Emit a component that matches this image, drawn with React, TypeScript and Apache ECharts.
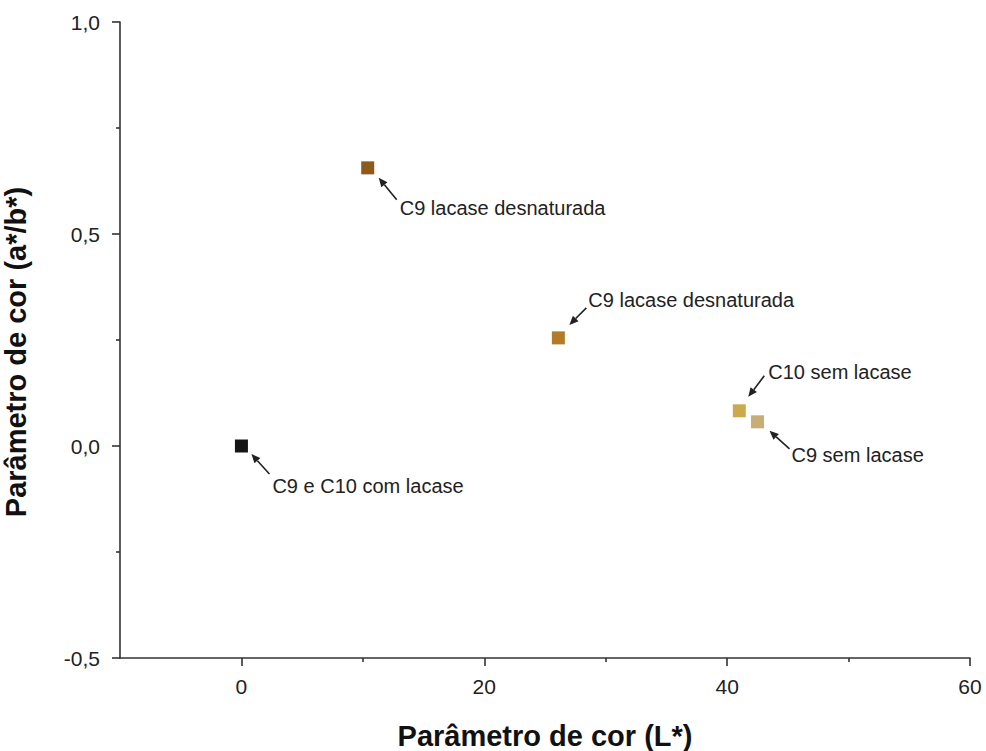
import React, { useEffect, useRef } from "react";
import * as echarts from "echarts";

const pointNames = [
  "C9 e C10 com lacase",
  "C9 lacase desnaturada (a)",
  "C9 lacase desnaturada (b)",
  "C10 sem lacase",
  "C9 sem lacase",
];
const lValues = [0, 10.4, 26.1, 41.0, 42.5];
const abValues = [0, 0.656, 0.255, 0.083, 0.057];
const pointColors = ["#151515", "#8E5A1C", "#B27B2A", "#CBA94E", "#C7AE74"];
const annotationTexts = [
  "C9 e C10 com lacase",
  "C9 lacase desnaturada",
  "C9 lacase desnaturada",
  "C10 sem lacase",
  "C9 sem lacase",
];
const xMajorTicks = [0, 20, 40, 60];
const xMinorTicks = [10, 30, 50];
const yMajorTicks = [-0.5, 0, 0.5, 1.0];
const yMinorTicks = [-0.25, 0.25, 0.75];

// Layout of the annotation arrows, in pixels relative to each marker:
// [tailDx, tailDy, headDx, headDy, textDx, textDy]
const annotationLayout = [
  [28, 28, 10, 8, 31, 40],
  [29, 32, 11, 10, 32, 40],
  [28, -30, 11, -13, 30, -38],
  [25, -35, 9, -14, 29, -39],
  [32, 27, 12, 9, 34, 33],
];

const FONT = "'Liberation Sans', Arial, sans-serif";

export default function App() {
  const ref = useRef<HTMLDivElement>(null);
  useEffect(() => {
    document.body.style.margin = "0";
    if (!ref.current) return;
    const chart = echarts.init(ref.current, null, { renderer: "svg" });
    const fmtY = (v: number) => v.toFixed(1).replace(".", ",");
    const data = lValues.map((x, i) => ({
      name: pointNames[i],
      value: [x, abValues[i]],
      itemStyle: { color: pointColors[i], opacity: 1 },
    }));
    const grid = { left: 120, right: 16, top: 22, bottom: 93, containLabel: false, outerBoundsMode: "none" };
    const lineStyle = { color: "#333", width: 1.6 };
    chart.setOption({
      animation: false,
      backgroundColor: "#ffffff",
      grid,
      xAxis: [
        {
          type: "value",
          min: -10,
          max: 60,
          interval: 10,
          name: "Parâmetro de cor (L*)",
          nameLocation: "middle",
          nameGap: 63,
          nameTextStyle: { fontFamily: FONT, fontWeight: "bold", fontSize: 29, color: "#111" },
          axisLine: { onZero: false, lineStyle },
          axisTick: { customValues: xMajorTicks, length: 8, lineStyle },
          axisLabel: {
            customValues: xMajorTicks,
            formatter: (v: number) => String(v),
            fontFamily: FONT,
            fontSize: 21,
            color: "#222",
            margin: 18,
          },
          splitLine: { show: false },
        },
        {
          type: "value",
          min: -10,
          max: 60,
          position: "bottom",
          axisLine: { show: false, onZero: false },
          axisTick: { customValues: xMinorTicks, length: 4, lineStyle },
          axisLabel: { show: false },
          splitLine: { show: false },
        },
      ],
      yAxis: [
        {
          type: "value",
          min: -0.5,
          max: 1.0,
          interval: 0.5,
          name: "Parâmetro de cor (a*/b*)",
          nameLocation: "middle",
          nameGap: 90,
          nameTextStyle: {
            fontFamily: FONT,
            fontWeight: "bold",
            fontSize: 29,
            color: "#111",
            padding: [0, 24, 0, 0],
          },
          axisLine: { onZero: false, lineStyle },
          axisTick: { customValues: yMajorTicks, length: 8, lineStyle },
          axisLabel: {
            customValues: yMajorTicks,
            formatter: fmtY,
            fontFamily: FONT,
            fontSize: 21,
            color: "#222",
            margin: 20,
          },
          splitLine: { show: false },
        },
        {
          type: "value",
          min: -0.5,
          max: 1.0,
          position: "left",
          axisLine: { show: false, onZero: false },
          axisTick: { customValues: yMinorTicks, length: 4, lineStyle },
          axisLabel: { show: false },
          splitLine: { show: false },
        },
      ],
      series: [
        {
          type: "scatter",
          xAxisIndex: 0,
          yAxisIndex: 0,
          symbol: "rect",
          symbolSize: 13,
          data,
        },
      ],
    });

    const graphics: any[] = [];
    lValues.forEach((x, i) => {
      const p = chart.convertToPixel({ xAxisIndex: 0, yAxisIndex: 0 }, [x, abValues[i]]) as number[];
      const [tdx, tdy, hdx, hdy, txdx, txdy] = annotationLayout[i];
      const tx = p[0] + tdx, ty = p[1] + tdy;
      const hx = p[0] + hdx, hy = p[1] + hdy;
      const ang = Math.atan2(hy - ty, hx - tx);
      const L = 9, W = 4;
      const bx = hx - L * Math.cos(ang), by = hy - L * Math.sin(ang);
      const nx = -Math.sin(ang) * W, ny = Math.cos(ang) * W;
      graphics.push({
        type: "line",
        shape: { x1: tx, y1: ty, x2: bx, y2: by },
        style: { stroke: "#222", lineWidth: 1.6 },
        silent: true,
      });
      graphics.push({
        type: "polygon",
        shape: { points: [[hx, hy], [bx + nx, by + ny], [bx - nx, by - ny]] },
        style: { fill: "#222" },
        silent: true,
      });
      graphics.push({
        type: "text",
        x: p[0] + txdx,
        y: p[1] + txdy,
        style: {
          text: annotationTexts[i],
          fontFamily: FONT,
          fontSize: 20,
          fill: "#222",
          verticalAlign: "middle",
          align: "left",
        },
        silent: true,
      });
    });
    chart.setOption({ graphic: graphics });

    return () => chart.dispose();
  }, []);
  return <div ref={ref} style={{ width: 986, height: 751 }} />;
}
